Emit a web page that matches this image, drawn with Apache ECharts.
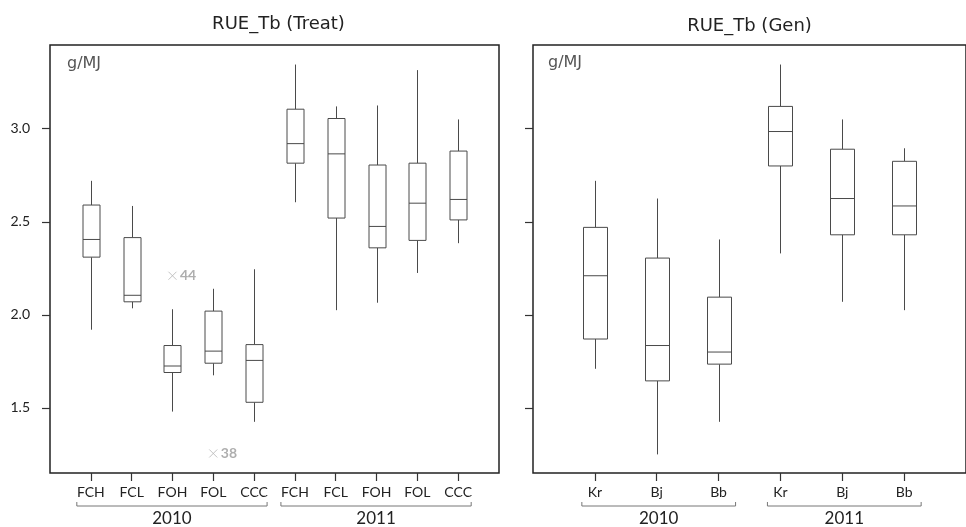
<!DOCTYPE html>
<html>
<head>
<meta charset="utf-8">
<script src="https://cdn.jsdelivr.net/npm/echarts@6/dist/echarts.min.js"></script>
<style>
  html, body { margin: 0; padding: 0; background: #fff; }
  #main { width: 966px; height: 527px; }
</style>
</head>
<body>
<div id="main"></div>
<script>
// categories
var treatCats = ['FCH', 'FCL', 'FOH', 'FOL', 'CCC', 'FCH', 'FCL', 'FOH', 'FOL', 'CCC'];
var genCats = ['Kr', 'Bj', 'Bb', 'Kr', 'Bj', 'Bb'];
var years = ['2010', '2011'];
var yTicks = [1.5, 2.0, 2.5, 3.0];

// [min, Q1, median, Q3, max]
var treatBoxes = [
  [1.92, 2.31, 2.405, 2.59, 2.72],
  [2.035, 2.07, 2.105, 2.415, 2.585],
  [1.48, 1.69, 1.725, 1.835, 2.03],
  [1.675, 1.74, 1.805, 2.02, 2.14],
  [1.425, 1.53, 1.755, 1.84, 2.245],
  [2.605, 2.815, 2.92, 3.105, 3.345],
  [2.025, 2.52, 2.865, 3.055, 3.12],
  [2.065, 2.36, 2.475, 2.805, 3.125],
  [2.225, 2.40, 2.60, 2.815, 3.315],
  [2.385, 2.51, 2.62, 2.88, 3.05]
];
var genBoxes = [
  [1.71, 1.87, 2.21, 2.47, 2.72],
  [1.25, 1.645, 1.835, 2.305, 2.625],
  [1.425, 1.735, 1.80, 2.095, 2.405],
  [2.33, 2.80, 2.985, 3.12, 3.345],
  [2.07, 2.43, 2.625, 2.89, 3.05],
  [2.025, 2.43, 2.585, 2.825, 2.895]
];
// outliers: [category position (1-based), value, case id]
var treatOutliers = [[3, 2.21, '44'], [4, 1.255, '38']];

var labelFont = 'Lato, "Open Sans", sans-serif';
var titleFont = '"DejaVu Sans", "Open Sans", sans-serif';

function withPos(boxes) {
  return boxes.map(function (b, i) { return [i + 1].concat(b); });
}
function idx(n) {
  var a = [];
  for (var i = 1; i <= n; i++) a.push(i);
  return a;
}

function xAxisFor(gi, cats) {
  return {
    type: 'value', gridIndex: gi, min: 0, max: cats.length + 1,
    splitLine: { show: false },
    axisLine: { show: false },
    axisTick: { show: true, inside: false, length: 8, customValues: idx(cats.length),
      lineStyle: { color: '#333', width: 1.2 } },
    axisLabel: { show: true, customValues: idx(cats.length), margin: 12,
      color: '#222', fontSize: 14, fontFamily: labelFont,
      formatter: function (v) { return cats[Math.round(v) - 1] || ''; } }
  };
}
function yAxisFor(gi, showLabels) {
  return {
    type: 'value', gridIndex: gi, min: 1.15, max: 3.45,
    splitLine: { show: false },
    axisLine: { show: false },
    axisTick: { show: true, length: 8, customValues: yTicks,
      lineStyle: { color: '#333', width: 1.2 } },
    axisLabel: { show: showLabels, customValues: yTicks, margin: 20,
      color: '#222', fontSize: 14, fontFamily: labelFont,
      formatter: function (v) { return v.toFixed(1); } }
  };
}

// box + whiskers without end caps
function boxRenderer(boxW) {
  return function (params, api) {
    var x = api.value(0);
    var lo = api.coord([x, api.value(1)]);
    var q1 = api.coord([x, api.value(2)]);
    var md = api.coord([x, api.value(3)]);
    var q3 = api.coord([x, api.value(4)]);
    var hi = api.coord([x, api.value(5)]);
    var cx = Math.round(lo[0]) + 0.5;
    var half = boxW / 2;
    var st = { stroke: '#4a4a4a', lineWidth: 1, fill: null };
    return {
      type: 'group',
      children: [
        { type: 'line', shape: { x1: cx, y1: hi[1], x2: cx, y2: q3[1] }, style: st },
        { type: 'line', shape: { x1: cx, y1: q1[1], x2: cx, y2: lo[1] }, style: st },
        { type: 'rect', shape: { x: cx - half, y: q3[1], width: boxW, height: q1[1] - q3[1] },
          style: { stroke: '#4a4a4a', lineWidth: 1, fill: '#fff' } },
        { type: 'line', shape: { x1: cx - half, y1: md[1], x2: cx + half, y2: md[1] }, style: st }
      ]
    };
  };
}

var myChart = echarts.init(document.getElementById('main'));
myChart.setOption({
  animation: false,
  grid: [
    { left: 50, top: 45, width: 449, height: 428, show: true, borderColor: '#222', borderWidth: 1.5, backgroundColor: 'transparent' },
    { left: 533, top: 45, width: 444, height: 428, show: true, borderColor: '#222', borderWidth: 1.5, backgroundColor: 'transparent' }
  ],
  xAxis: [xAxisFor(0, treatCats), xAxisFor(1, genCats)],
  yAxis: [yAxisFor(0, true), yAxisFor(1, false)],
  series: [
    {
      type: 'custom', xAxisIndex: 0, yAxisIndex: 0,
      renderItem: boxRenderer(17),
      encode: { x: 0, y: [1, 2, 3, 4, 5] },
      data: withPos(treatBoxes)
    },
    {
      type: 'custom', xAxisIndex: 1, yAxisIndex: 1,
      renderItem: boxRenderer(24),
      encode: { x: 0, y: [1, 2, 3, 4, 5] },
      data: withPos(genBoxes)
    },
    {
      type: 'scatter', xAxisIndex: 0, yAxisIndex: 0,
      symbol: 'path://M0,0L10,10M10,0L0,10',
      symbolSize: 8,
      itemStyle: { color: 'none', borderColor: '#b5b5b5', borderWidth: 1 },
      label: {
        show: true, position: 'right', distance: 1,
        color: '#9a9a9a', fontWeight: 'bold', fontSize: 14, fontFamily: labelFont,
        formatter: function (p) { return p.value[2]; }
      },
      data: treatOutliers
    }
  ]
});

// titles, unit text and the year brackets under the category axes
function px(gi, x, y) {
  return myChart.convertToPixel({ gridIndex: gi }, [x, y]);
}
var graphics = [];
function text(x, y, str, size, font, color, align) {
  graphics.push({ type: 'text', x: x, y: y, style: { text: str, fontSize: size, fontFamily: font,
    fill: color, textAlign: align || 'center', textVerticalAlign: 'middle' } });
}
function bracket(gi, from, to, padL, padR, year) {
  var a = px(gi, from, 2)[0] - padL;
  var b = px(gi, to, 2)[0] + padR;
  var y = 506;
  graphics.push({ type: 'polyline', shape: { points: [[a, y - 4], [a, y], [b, y], [b, y - 4]] },
    style: { stroke: '#777', lineWidth: 1, fill: null } });
  text((a + b) / 2, 519, year, 17, labelFont, '#222');
}
var g0 = px(0, 0, 3.45), g0r = px(0, treatCats.length + 1, 3.45);
var g1 = px(1, 0, 3.45), g1r = px(1, genCats.length + 1, 3.45);
text((g0[0] + g0r[0]) / 2 + 4, 24, 'RUE_Tb (Treat)', 18, titleFont, '#222');
text((g1[0] + g1r[0]) / 2, 26, 'RUE_Tb (Gen)', 18, titleFont, '#222');
text(g0[0] + 17, 64, 'g/MJ', 16, titleFont, '#555', 'left');
text(g1[0] + 15, 63, 'g/MJ', 16, titleFont, '#555', 'left');
bracket(0, 1, 5, 14, 13, years[0]);
bracket(0, 6, 10, 14, 13, years[1]);
bracket(1, 1, 3, 13, 17, years[0]);
bracket(1, 4, 6, 13, 17, years[1]);
myChart.setOption({ graphic: graphics });
</script>
</body>
</html>
